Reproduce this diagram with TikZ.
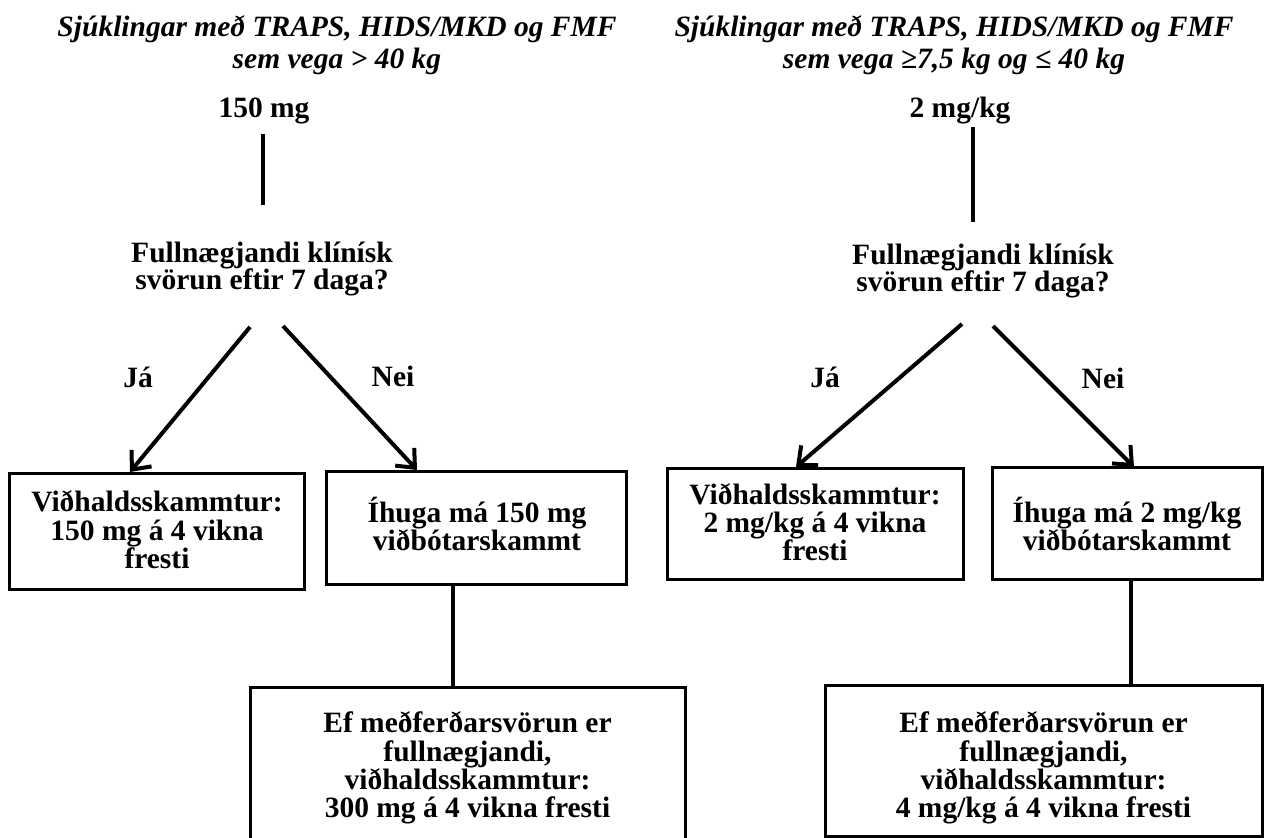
\documentclass[tikz,border=0pt]{standalone}
\usepackage{fontspec}
\setmainfont{Liberation Serif}
\usetikzlibrary{arrows.meta}
\begin{document}
\setlength{\lineskiplimit}{-50pt}
\begin{tikzpicture}[x=1pt,y=-1pt,
  txt/.style={font={\fontsize{29.5}{28.3}\selectfont\bfseries}, align=center, inner sep=0pt},
  qtxt/.style={font={\fontsize{29.5}{27}\selectfont\bfseries}, align=center, inner sep=0pt},
  ttl/.style={font={\fontsize{29.5}{32}\selectfont\bfseries\itshape}, align=center, inner sep=0pt},
  box/.style={draw, line width=3pt, inner sep=0pt},
  conn/.style={line width=4pt},
  arr/.style={line width=4pt, -{Straight Barb[length=15pt,width=26pt]}}]
\useasboundingbox (0,0) rectangle (1264,838);
\clip (0,0) rectangle (1264,838);

% ---------------- left column ----------------
\node[ttl] (ttlL) at (337,45) {Sjúklingar með TRAPS, HIDS/MKD og FMF\\sem vega > 40 kg};
\node[txt, anchor=base] (doseL) at (264,117) {150 mg};
\node[qtxt] (qL) at (262,269.4) {Fullnægjandi klínísk\\svörun eftir 7 daga?};
\coordinate (vLa) at (263,134);
\coordinate (vLb) at (263,205);
\draw[conn] (vLa) -- (vLb);

\node[box, minimum width=295, minimum height=116] (b1) at (156.5,531) {};
\node[txt] (t1) at (157,529.8) {Viðhaldsskammtur:\\150 mg á 4 vikna\\fresti};
\node[box, minimum width=300, minimum height=113] (b2) at (476,527.5) {};
\node[txt] (t2) at (477,524) {Íhuga má 150 mg\\viðbótarskammt};
\node[box, minimum width=435, minimum height=200] (b3) at (467.5,787) {};
\node[txt] (t3) at (467.5,768)
  {Ef meðferðarsvörun er\\fullnægjandi,\\viðhaldsskammtur:\\300 mg á 4 vikna fresti};

\coordinate (aL1s) at (250,327);
\coordinate (aL1e) at (130,472);
\coordinate (aL2s) at (283,326);
\coordinate (aL2e) at (417,470);
\draw[arr] (aL1s) -- (aL1e);
\draw[arr] (aL2s) -- (aL2e);
\node[txt, anchor=base] (jaL) at (138,387) {Já};
\node[txt, anchor=base] (neiL) at (393,386) {Nei};

\coordinate (cL) at (453,0);
\draw[conn] (b2.south -| cL) -- (b3.north -| cL);

% ---------------- right column ----------------
\node[ttl] (ttlR) at (954,45) {Sjúklingar með TRAPS, HIDS/MKD og FMF\\sem vega ≥7,5 kg og ≤ 40 kg};
\node[txt, anchor=base] (doseR) at (960,117) {2 mg/kg};
\node[qtxt] (qR) at (983,271) {Fullnægjandi klínísk\\svörun eftir 7 daga?};
\coordinate (vRa) at (973,127);
\coordinate (vRb) at (973,222);
\draw[conn] (vRa) -- (vRb);

\node[box, minimum width=296, minimum height=111] (b4) at (815,523.5) {};
\node[txt] (t4) at (815,522.3) {Viðhaldsskammtur:\\2 mg/kg á 4 vikna\\fresti};
\node[box, minimum width=270, minimum height=112] (b5) at (1127,523) {};
\node[txt] (t5) at (1127,524) {Íhuga má 2 mg/kg\\viðbótarskammt};
\node[box, minimum width=437, minimum height=151] (b6) at (1043.5,760.5) {};
\node[txt] (t6) at (1043.5,768)
  {Ef meðferðarsvörun er\\fullnægjandi,\\viðhaldsskammtur:\\4 mg/kg á 4 vikna fresti};

\coordinate (aR1s) at (962,324);
\coordinate (aR1e) at (796,467);
\coordinate (aR2s) at (993,326);
\coordinate (aR2e) at (1134,467);
\draw[arr] (aR1s) -- (aR1e);
\draw[arr] (aR2s) -- (aR2e);
\node[txt, anchor=base] (jaR) at (825,387) {Já};
\node[txt, anchor=base] (neiR) at (1103,388) {Nei};

\coordinate (cR) at (1131,0);
\draw[conn] (b5.south -| cR) -- (b6.north -| cR);
\end{tikzpicture}
\end{document}
